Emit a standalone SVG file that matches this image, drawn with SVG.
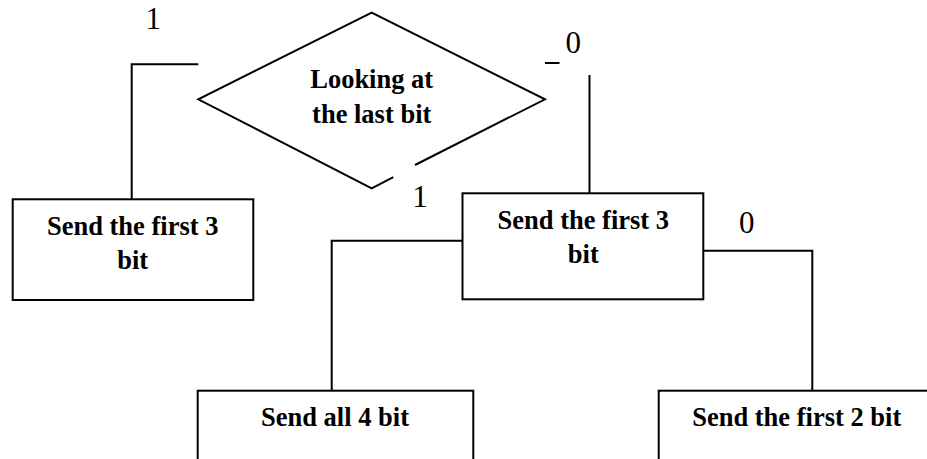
<svg xmlns="http://www.w3.org/2000/svg" width="927" height="459" viewBox="0 0 927 459">
<style>
.box{fill:#fff;stroke:#000;stroke-width:2}
.ln{fill:none;stroke:#000;stroke-width:2}
.bt{font-family:"Liberation Serif","Times New Roman",serif;font-weight:bold;font-size:26.5px;text-anchor:middle;fill:#000}
.lb{font-family:"Liberation Serif","Times New Roman",serif;font-size:31px;text-anchor:middle;fill:#000}
</style>
<rect width="927" height="459" fill="#fff"/>
<g id="connectors">
<polyline class="ln" points="198.3,64.3 131.7,64.3 131.7,199.3"/>
<line class="ln" x1="545" y1="63" x2="559.5" y2="63"/>
<line class="ln" x1="589.5" y1="75" x2="589.5" y2="193.3"/>
<polyline class="ln" points="462.5,240.7 331.7,240.7 331.7,390.7"/>
<polyline class="ln" points="703.3,250.7 812.3,250.7 812.3,390.7"/>
</g>
<g id="decision">
<path class="ln" d="M415,165 L545,99.3 L371.7,12.7 L198.3,99.3 L371.7,188.3 L393.3,177.2" fill="#fff"/>
<text class="bt" x="371.7" y="88">Looking at</text>
<text class="bt" x="371.7" y="122.5">the last bit</text>
</g>
<g id="labels">
<text class="lb" x="153.3" y="29.3">1</text>
<text class="lb" x="573.3" y="52.7">0</text>
<text class="lb" x="420" y="206.7">1</text>
<text class="lb" x="746.7" y="233.3">0</text>
</g>
<g id="left-box">
<rect class="box" x="12.7" y="199.3" width="240.6" height="100.7"/>
<text class="bt" x="132.7" y="235">Send the first 3</text>
<text class="bt" x="132.7" y="269">bit</text>
</g>
<g id="mid-box">
<rect class="box" x="462.5" y="193.3" width="240.8" height="106"/>
<text class="bt" x="583.3" y="229.3">Send the first 3</text>
<text class="bt" x="583.3" y="263">bit</text>
</g>
<g id="all4-box">
<rect class="box" x="197.7" y="390.7" width="275.6" height="100"/>
<text class="bt" x="335" y="426">Send all 4 bit</text>
</g>
<g id="first2-box">
<rect class="box" x="658.7" y="390.7" width="300" height="100"/>
<text class="bt" x="796.7" y="426">Send the first 2 bit</text>
</g>
</svg>
